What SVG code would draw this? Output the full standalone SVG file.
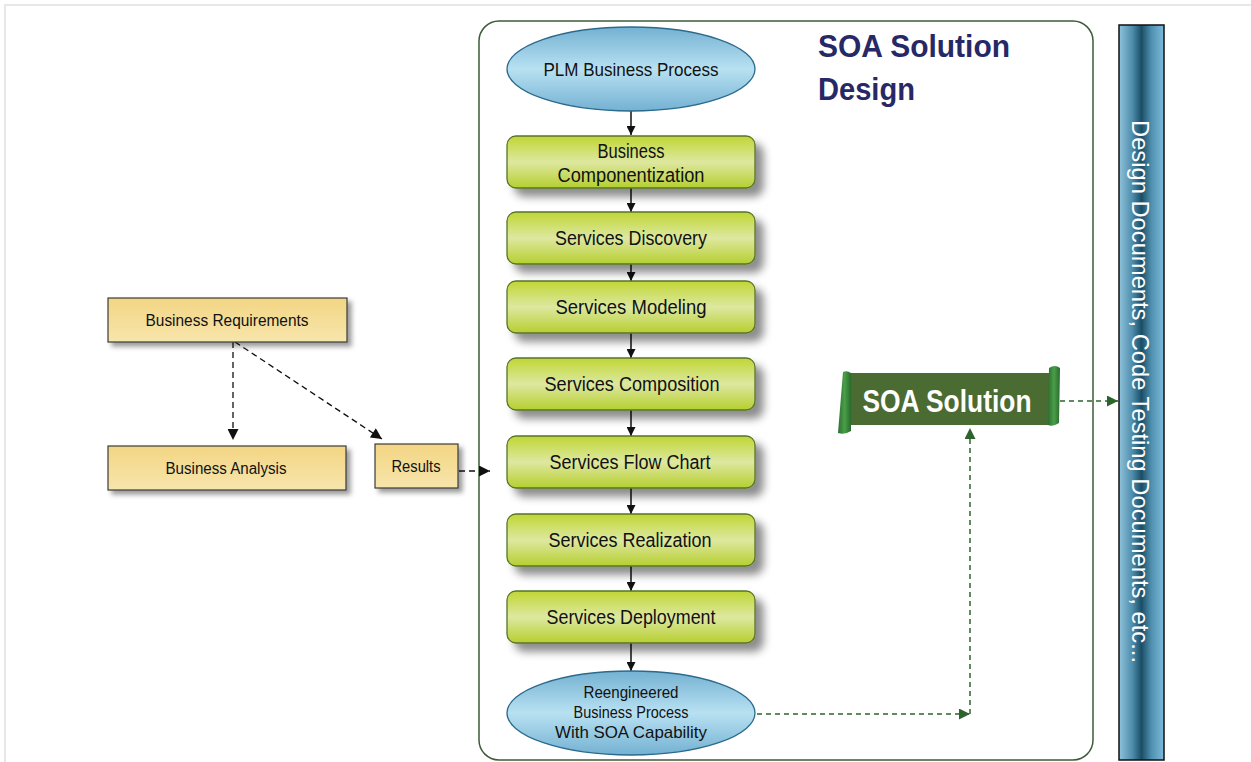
<svg xmlns="http://www.w3.org/2000/svg" width="1251" height="762" viewBox="0 0 1251 762">
  <defs>
    <linearGradient id="gStep" x1="0" y1="0" x2="0" y2="1">
      <stop offset="0" stop-color="#c0d634"/>
      <stop offset="0.5" stop-color="#dde8a0"/>
      <stop offset="1" stop-color="#b6cf30"/>
    </linearGradient>
    <linearGradient id="gOval" x1="0" y1="0" x2="0" y2="1">
      <stop offset="0" stop-color="#74b1d2"/>
      <stop offset="0.5" stop-color="#b8e1f2"/>
      <stop offset="1" stop-color="#74b1d2"/>
    </linearGradient>
    <linearGradient id="gTan" x1="0" y1="0" x2="0" y2="1">
      <stop offset="0" stop-color="#f3d684"/>
      <stop offset="1" stop-color="#f7e5ac"/>
    </linearGradient>
    <linearGradient id="gBar" x1="0" y1="0" x2="1" y2="0">
      <stop offset="0" stop-color="#8fc3da"/>
      <stop offset="0.3" stop-color="#4d8cab"/>
      <stop offset="0.5" stop-color="#1b4e66"/>
      <stop offset="0.72" stop-color="#4f90b0"/>
      <stop offset="1" stop-color="#7dbbdb"/>
    </linearGradient>
    <linearGradient id="gCurl" x1="0" y1="0" x2="1" y2="0">
      <stop offset="0" stop-color="#2a7030"/>
      <stop offset="0.5" stop-color="#4a9e48"/>
      <stop offset="1" stop-color="#2a6a2c"/>
    </linearGradient>
    <filter id="shadowBig" x="-20%" y="-30%" width="150%" height="180%">
      <feDropShadow dx="8" dy="8" stdDeviation="4" flood-color="#000" flood-opacity="0.45"/>
    </filter>
    <filter id="shadowSmall" x="-20%" y="-30%" width="150%" height="180%">
      <feDropShadow dx="4" dy="4" stdDeviation="2.5" flood-color="#000" flood-opacity="0.4"/>
    </filter>
    <marker id="arrBlack" viewBox="0 0 10 10" refX="10" refY="5" markerWidth="9" markerHeight="9" markerUnits="userSpaceOnUse" orient="auto">
      <path d="M0,0 L10,5 L0,10 Z" fill="#111"/>
    </marker>
    <marker id="arrBlackDash" viewBox="0 0 10 10" refX="10" refY="5" markerWidth="12" markerHeight="11" markerUnits="userSpaceOnUse" orient="auto">
      <path d="M0,0 L10,5 L0,10 Z" fill="#111"/>
    </marker>
    <marker id="arrGreen" viewBox="0 0 10 10" refX="10" refY="5" markerWidth="12" markerHeight="11" markerUnits="userSpaceOnUse" orient="auto">
      <path d="M0,0 L10,5 L0,10 Z" fill="#2d642d"/>
    </marker>
  </defs>
  <style>
    .txt { font-family: "Liberation Sans", Arial, sans-serif; fill: #111; text-anchor: middle; }
    .step rect { fill: url(#gStep); stroke: #56752a; stroke-width: 1.3; filter: url(#shadowBig); }
    .step text { font-size: 20px; }
    .oval ellipse { fill: url(#gOval); stroke: #2b6a8c; stroke-width: 1.3; }
    .tan rect { fill: url(#gTan); stroke: #3a3a3a; stroke-width: 1.2; filter: url(#shadowSmall); }
    .tan text { font-size: 16px; }
    .flow { stroke: #111; stroke-width: 1.5; fill: none; marker-end: url(#arrBlack); }
    .dashBlack { stroke: #111; stroke-width: 1.3; fill: none; stroke-dasharray: 6 4; marker-end: url(#arrBlackDash); }
    .dashGreen { stroke: #2d642d; stroke-width: 1.5; fill: none; stroke-dasharray: 5 4; }
  </style>

  <rect width="1251" height="762" fill="#ffffff"/>
  <!-- outer frame -->
  <rect x="5" y="5" width="1300" height="800" fill="none" stroke="#e7e7e7" stroke-width="2"/>

  <!-- design container -->
  <g id="container">
    <rect x="479" y="21" width="614" height="739" rx="20" ry="20" fill="#ffffff" stroke="#3d5c38" stroke-width="1.5"/>
    <text x="818" y="57" font-family="Liberation Sans, Arial, sans-serif" font-weight="bold" font-size="31" fill="#272866" textLength="192" lengthAdjust="spacingAndGlyphs">SOA Solution</text>
    <text x="818" y="100" font-family="Liberation Sans, Arial, sans-serif" font-weight="bold" font-size="31" fill="#272866" textLength="97" lengthAdjust="spacingAndGlyphs">Design</text>
  </g>

  <!-- connectors -->
  <g id="connectors">
    <line class="flow" x1="631" y1="111" x2="631" y2="135"/>
    <line class="flow" x1="631" y1="188" x2="631" y2="212"/>
    <line class="flow" x1="631" y1="264" x2="631" y2="281"/>
    <line class="flow" x1="631" y1="333" x2="631" y2="358"/>
    <line class="flow" x1="631" y1="410" x2="631" y2="436"/>
    <line class="flow" x1="631" y1="488" x2="631" y2="514"/>
    <line class="flow" x1="631" y1="566" x2="631" y2="591"/>
    <line class="flow" x1="631" y1="643" x2="631" y2="671"/>

    <line class="dashBlack" x1="233" y1="342" x2="233" y2="440"/>
    <line class="dashBlack" x1="235" y1="342" x2="382" y2="439"/>
    <line class="dashBlack" x1="459" y1="471" x2="490" y2="471"/>

    <line class="dashGreen" x1="757" y1="714" x2="970" y2="714" marker-end="url(#arrGreen)"/>
    <line class="dashGreen" x1="970" y1="714" x2="970" y2="428" marker-end="url(#arrGreen)"/>
    <line class="dashGreen" x1="1060" y1="401" x2="1118" y2="401" marker-end="url(#arrGreen)"/>
  </g>

  <!-- process flow -->
  <g id="plm" class="oval">
    <ellipse cx="631" cy="69" rx="124" ry="42"/>
    <text class="txt" x="631" y="76" font-size="19" textLength="175" lengthAdjust="spacingAndGlyphs">PLM Business Process</text>
  </g>
  <g id="componentization" class="step">
    <rect x="507" y="136" width="248" height="52" rx="9"/>
    <text class="txt" x="631" y="158" textLength="67" lengthAdjust="spacingAndGlyphs">Business</text>
    <text class="txt" x="631" y="182" textLength="147" lengthAdjust="spacingAndGlyphs">Componentization</text>
  </g>
  <g id="discovery" class="step">
    <rect x="507" y="212" width="248" height="52" rx="9"/>
    <text class="txt" x="631" y="245" textLength="152" lengthAdjust="spacingAndGlyphs">Services Discovery</text>
  </g>
  <g id="modeling" class="step">
    <rect x="507" y="281" width="248" height="52" rx="9"/>
    <text class="txt" x="631" y="314" textLength="151" lengthAdjust="spacingAndGlyphs">Services Modeling</text>
  </g>
  <g id="composition" class="step">
    <rect x="507" y="358" width="248" height="52" rx="9"/>
    <text class="txt" x="632" y="391" textLength="175" lengthAdjust="spacingAndGlyphs">Services Composition</text>
  </g>
  <g id="flowchart" class="step">
    <rect x="507" y="436" width="248" height="52" rx="9"/>
    <text class="txt" x="630" y="469" textLength="161" lengthAdjust="spacingAndGlyphs">Services Flow Chart</text>
  </g>
  <g id="realization" class="step">
    <rect x="507" y="514" width="248" height="52" rx="9"/>
    <text class="txt" x="630" y="547" textLength="163" lengthAdjust="spacingAndGlyphs">Services Realization</text>
  </g>
  <g id="deployment" class="step">
    <rect x="507" y="591" width="248" height="52" rx="9"/>
    <text class="txt" x="631" y="624" textLength="169" lengthAdjust="spacingAndGlyphs">Services Deployment</text>
  </g>
  <g id="reengineered" class="oval">
    <ellipse cx="631" cy="713" rx="124" ry="42"/>
    <text class="txt" x="631" y="698" font-size="17" textLength="95" lengthAdjust="spacingAndGlyphs">Reengineered</text>
    <text class="txt" x="631" y="718" font-size="17" textLength="115" lengthAdjust="spacingAndGlyphs">Business Process</text>
    <text class="txt" x="631" y="738" font-size="17" textLength="152" lengthAdjust="spacingAndGlyphs">With SOA Capability</text>
  </g>

  <!-- analysis inputs -->
  <g id="requirements" class="tan">
    <rect x="108" y="298" width="239" height="44"/>
    <text class="txt" x="227" y="326" textLength="163" lengthAdjust="spacingAndGlyphs">Business Requirements</text>
  </g>
  <g id="analysis" class="tan">
    <rect x="108" y="446" width="238" height="44"/>
    <text class="txt" x="226" y="474" textLength="121" lengthAdjust="spacingAndGlyphs">Business Analysis</text>
  </g>
  <g id="results" class="tan">
    <rect x="375" y="444" width="83" height="44"/>
    <text class="txt" x="416" y="472" textLength="49" lengthAdjust="spacingAndGlyphs">Results</text>
  </g>

  <!-- solution banner -->
  <g id="solution">
    <rect x="845" y="373" width="206" height="52" fill="#4a6b32"/>
    <path d="M843,372 Q847,370 851,373 L851,431 Q845,435 838,433 Z" fill="url(#gCurl)"/>
    <path d="M1049,368 Q1055,364 1060,368 L1059,423 Q1053,427 1048,425 Z" fill="url(#gCurl)"/>
    <text x="947" y="412" font-family="Liberation Sans, Arial, sans-serif" font-weight="bold" font-size="32" fill="#ffffff" text-anchor="middle" textLength="169" lengthAdjust="spacingAndGlyphs">SOA Solution</text>
  </g>

  <!-- deliverables bar -->
  <g id="deliverables">
    <rect x="1119" y="25" width="45" height="735" fill="url(#gBar)" stroke="#111" stroke-width="1.5"/>
    <text transform="translate(1132,120) rotate(90)" x="0" y="0" font-family="Liberation Sans, Arial, sans-serif" font-size="24" fill="#ffffff" textLength="543" lengthAdjust="spacingAndGlyphs">Design Documents, Code Testing Documents, etc...</text>
  </g>
</svg>
